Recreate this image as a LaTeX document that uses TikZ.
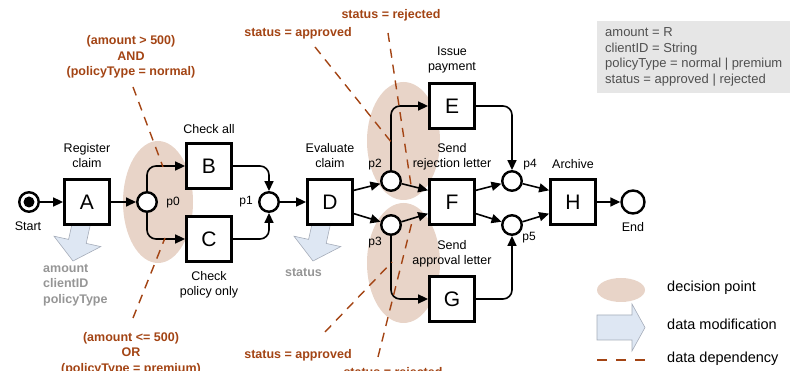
\documentclass[tikz,border=0pt]{standalone}
\usepackage{fontspec}
\setmainfont{Liberation Sans}
\usetikzlibrary{arrows.meta}
\definecolor{dpfill}{RGB}{232,212,200}
\definecolor{brn}{RGB}{163,68,20}
\definecolor{dmfill}{RGB}{222,231,243}
\definecolor{dmline}{RGB}{165,172,185}
\definecolor{gtext}{RGB}{150,150,150}
\definecolor{boxfill}{RGB}{230,230,230}
\definecolor{boxtext}{RGB}{80,80,80}
\begin{document}
\begin{tikzpicture}[x=1pt,y=-1pt,
  trans/.style={draw,line width=2.8pt,fill=white,minimum size=45pt,inner sep=0pt,font=\fontsize{21}{21}\selectfont},
  place/.style={circle,draw,line width=2.4pt,fill=white,minimum size=19.5pt,inner sep=0pt},
  arc/.style={line width=1.6pt,-{Triangle[length=10pt,width=9pt]},rounded corners=9pt},
  lbl/.style={font=\fontsize{12.5}{15}\selectfont,align=center,inner sep=0pt},
  plbl/.style={font=\fontsize{12}{14}\selectfont,inner sep=0pt},
  cond/.style={text=brn,font=\bfseries\fontsize{12.5}{15.5}\selectfont,align=center,inner sep=0pt},
  dep/.style={brn,line width=1.4pt,dash pattern=on 9pt off 7pt},
  dpoint/.style={fill=dpfill},
  dmod/.style={fill=dmfill,draw=dmline,line width=0.6pt,line join=miter},
  dmtext/.style={text=gtext,font=\bfseries\fontsize{12.5}{15.5}\selectfont,align=left,inner sep=0pt},
  legtext/.style={font=\fontsize{14.5}{16}\selectfont,anchor=west,inner sep=0pt}
]
\useasboundingbox (0,0) rectangle (790,371);

% decision points
\fill[dpoint] (158,202) ellipse [x radius=35, y radius=61];
\fill[dpoint] (403.5,141) ellipse [x radius=36.5, y radius=59];
\fill[dpoint] (403.5,263) ellipse [x radius=36.5, y radius=60];

% data modification arrows
\draw[dmod] (91.8,218) -- (86.2,243.4) -- (100.8,246.6) -- (73,261) -- (54,236.2) -- (68.6,239.4) -- (74.2,214) -- cycle;
\draw[dmod] (331.8,218) -- (326.2,243.4) -- (340.8,246.6) -- (313,261) -- (294,236.2) -- (308.6,239.4) -- (314.2,214) -- cycle;

% nodes
\node[place] (start) at (29,202) {};
\fill (start.center) circle (5.5);
\node[trans] (A) at (87,202) {A};
\node[place] (p0) at (147,202) {};
\node[trans] (B) at (209,166) {B};
\node[trans] (C) at (209,239) {C};
\node[place] (p1) at (269,202) {};
\node[trans] (D) at (330,202) {D};
\node[place] (p2) at (391,181) {};
\node[place] (p3) at (391,225) {};
\node[trans] (E) at (452,106) {E};
\node[trans] (F) at (452,202) {F};
\node[trans] (G) at (452,299) {G};
\node[place] (p4) at (512,181) {};
\node[place] (p5) at (512,225) {};
\node[trans] (H) at (573,202) {H};
\node[place,minimum size=23pt] (end) at (633,202) {};

% arcs
\draw[arc] (start) -- (A);
\draw[arc] (A) -- (p0);
\draw[arc] (p0.north) |- (B.west);
\draw[arc] (p0.south) |- (C.west);
\draw[arc] (B.east) -| (p1.north);
\draw[arc] (C.east) -| (p1.south);
\draw[arc] (p1) -- (D);
\draw[arc] (D.26) -- (p2);
\draw[arc] (D.-26) -- (p3);
\draw[arc] (p2.north) |- (E.west);
\draw[arc] (p2) -- (F.154);
\draw[arc] (p3) -- (F.206);
\draw[arc] (p3.south) |- (G.west);
\draw[arc] (E.east) -| (p4.north);
\draw[arc] (F.26) -- (p4);
\draw[arc] (F.-26) -- (p5);
\draw[arc] (G.east) -| (p5.south);
\draw[arc] (p4) -- (H.154);
\draw[arc] (p5) -- (H.206);
\draw[arc] (H) -- (end);

% labels
\node[lbl] (lstart) at (28,226) {Start};
\node[lbl] (lend) at (633,227) {End};
\node[lbl] (lA) at (87,156) {Register\\claim};
\node[lbl] (lB) at (209,129) {Check all};
\node[lbl] (lC) at (209,284.5) {Check\\policy only};
\node[lbl] (lD) at (330,156) {Evaluate\\claim};
\node[lbl] (lE) at (452,60) {Issue\\payment};
\node[lbl] (lF) at (452,156.5) {Send\\rejection letter};
\node[lbl] (lG) at (452,253.5) {Send\\approval letter};
\node[lbl] (lH) at (573,164) {Archive};
\node[plbl] (lp0) at (173,203) {p0};
\node[plbl] (lp1) at (246,202) {p1};
\node[plbl] (lp2) at (375,165) {p2};
\node[plbl] (lp3) at (375,243) {p3};
\node[plbl] (lp4) at (530,165) {p4};
\node[plbl] (lp5) at (529,238) {p5};

% data modification texts
\node[dmtext,anchor=north west] (dmA) at (43,264) {amount\\clientID\\policyType};
\node[dmtext] (dmD) at (303.5,272) {status};

% conditions
\node[cond] (cond1) at (131,57) {(amount > 500)\\AND\\(policyType = normal)};
\node[cond] (cond2) at (131,353.5) {(amount <= 500)\\OR\\(policyType = premium)};
\node[cond] (sa1) at (298,33) {status = approved};
\node[cond] (sr1) at (391,15) {status = rejected};
\node[cond] (sa2) at (298,355) {status = approved};
\node[cond] (sr2) at (393,373) {status = rejected};

% data dependencies
\coordinate (d1a) at (133,87);  \coordinate (d1b) at (163,167);
\coordinate (d2a) at (133,318); \coordinate (d2b) at (165,238);
\coordinate (d3a) at (315,47);  \coordinate (d3b) at (392,143);
\coordinate (d4a) at (388,33);  \coordinate (d4b) at (411,185);
\coordinate (d5a) at (325,332); \coordinate (d5b) at (392,262);
\coordinate (d6a) at (378,357); \coordinate (d6b) at (413,218);
\draw[dep] (d1a) -- (d1b);
\draw[dep] (d2a) -- (d2b);
\draw[dep] (d3a) -- (d3b);
\draw[dep] (d4a) -- (d4b);
\draw[dep] (d5a) -- (d5b);
\draw[dep] (d6a) -- (d6b);

% variable box
\fill[boxfill] (597,21) rectangle (790,93);
\node[anchor=west,inner sep=0pt,align=left,text=boxtext,font=\fontsize{13}{15.5}\selectfont] (vars) at (605,57) {amount = R\\clientID = String\\policyType = normal | premium\\status = approved | rejected};

% legend
\fill[dpoint] (621,290) ellipse [x radius=24, y radius=12];
\draw[dmod] (597,315) -- (632,315) -- (632,304) -- (645,327.5) -- (632,351) -- (632,340) -- (597,340) -- cycle;
\coordinate (lg1) at (597,360); \coordinate (lg2) at (645,360);
\draw[brn,line width=1.4pt,dash pattern=on 10pt off 9pt] (lg1) -- (lg2);
\node[legtext] (t1) at (667,288) {decision point};
\node[legtext] (t2) at (667,324) {data modification};
\node[legtext] (t3) at (667,359) {data dependency};
\end{tikzpicture}
\end{document}
